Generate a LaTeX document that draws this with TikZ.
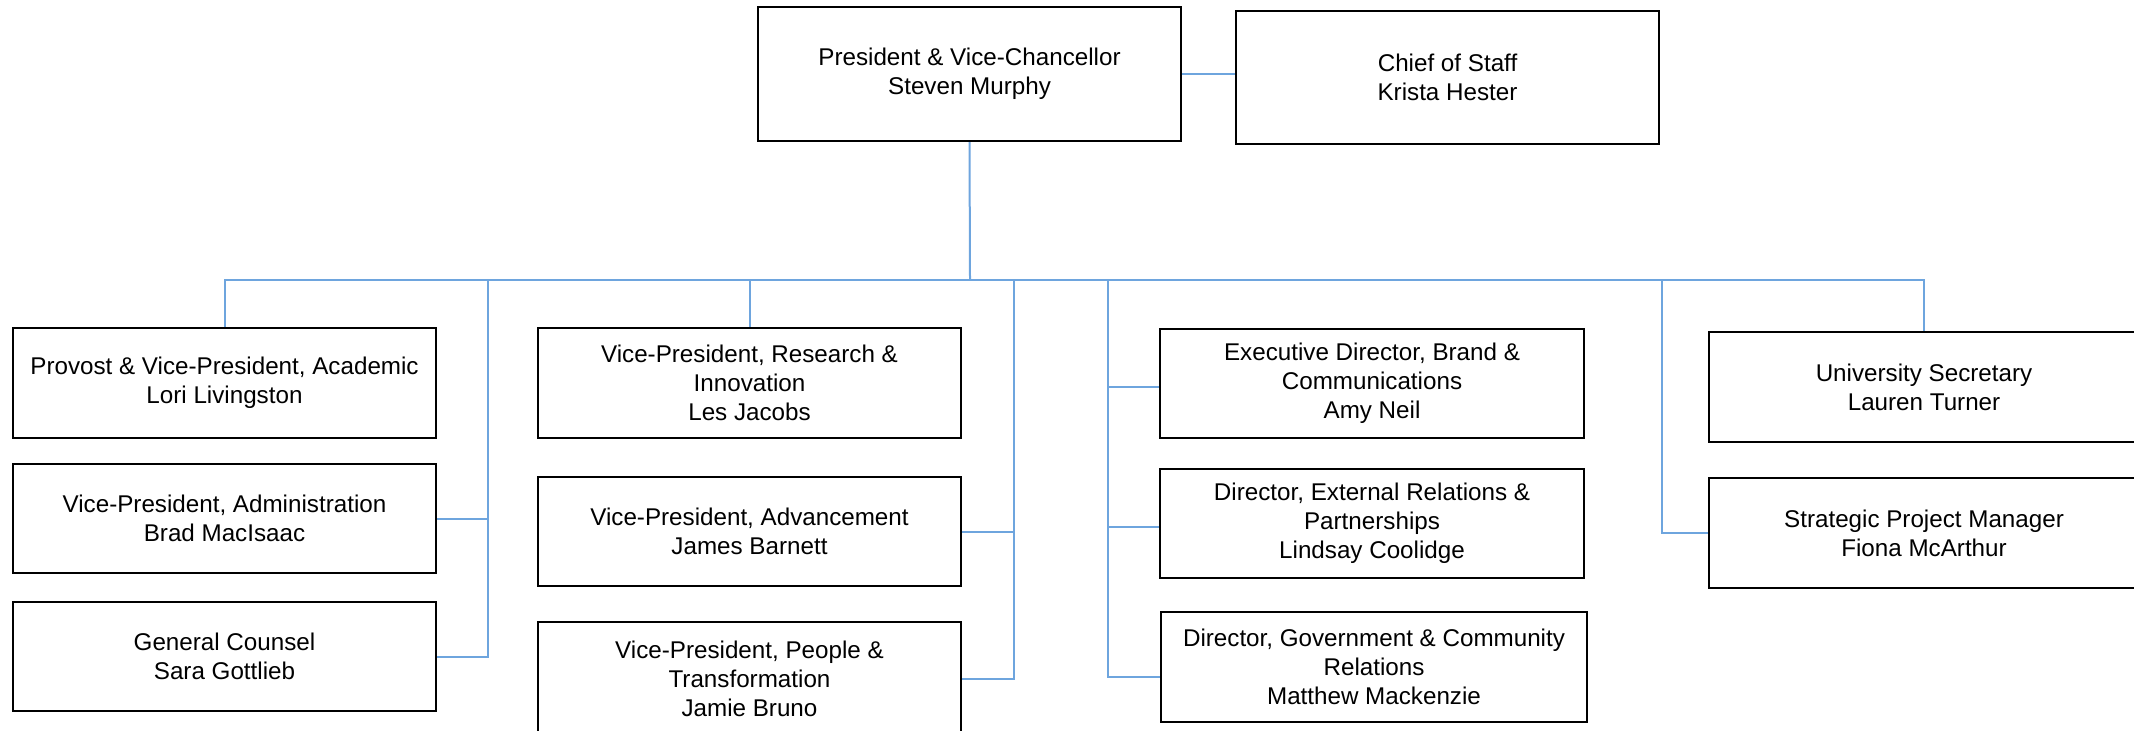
\documentclass[tikz,border=0pt]{standalone}
\usepackage{fontspec}
\setmainfont{Liberation Sans}
\definecolor{linkblue}{RGB}{110,165,222}
\begin{document}
\begin{tikzpicture}[x=0.5pt,y=-0.5pt,
  orgbox/.style={draw=black,line width=1.1pt,fill=white,rectangle,align=center,inner sep=0pt,
     minimum width=211.5pt,font=\fontsize{12.1}{14.5}\selectfont},
  link/.style={draw=linkblue,line width=1pt}]
\useasboundingbox (0,0) rectangle (2134,731);
% top
\node[orgbox,minimum height=67pt] (pres) at (969.5,74) {President \& Vice-Chancellor\\Steven Murphy};
\node[orgbox,minimum height=66.5pt] (chief) at (1447.5,77.5) {Chief of Staff\\Krista Hester};
% left column
\node[orgbox,minimum height=55pt] (provost) at (224.5,383) {Provost \& Vice-President, Academic\\Lori Livingston};
\node[orgbox,minimum height=54.5pt] (admin) at (224.5,518.5) {Vice-President, Administration\\Brad MacIsaac};
\node[orgbox,minimum height=54.5pt] (counsel) at (224.5,656.5) {General Counsel\\Sara Gottlieb};
% middle column
\node[orgbox,minimum height=55pt] (research) at (749.5,383) {Vice-President, Research \&\\Innovation\\Les Jacobs};
\node[orgbox,minimum height=54.5pt] (advance) at (749.5,531.5) {Vice-President, Advancement\\James Barnett};
\node[orgbox,minimum height=57pt] (people) at (749.5,679) {Vice-President, People \&\\Transformation\\Jamie Bruno};
% right-centre column
\node[orgbox,minimum height=54.5pt,minimum width=212pt] (brand) at (1372,383.5) {Executive Director, Brand \&\\Communications\\Amy Neil};
\node[orgbox,minimum height=54.5pt,minimum width=212pt] (external) at (1372,523.5) {Director, External Relations \&\\Partnerships\\Lindsay Coolidge};
\node[orgbox,minimum height=55pt,minimum width=213pt] (govt) at (1374,667) {Director, Government \& Community\\Relations\\Matthew Mackenzie};
% right column
\node[orgbox,minimum height=55pt,minimum width=215pt] (secretary) at (1924,387) {University Secretary\\Lauren Turner};
\node[orgbox,minimum height=55pt,minimum width=215pt] (pm) at (1924,533) {Strategic Project Manager\\Fiona McArthur};
% bus coordinates
\coordinate (bus) at (970,280);
\coordinate (g1) at (488,280);
\coordinate (g2) at (1014,280);
\coordinate (g3) at (1108,280);
\coordinate (g4) at (1662,280);
% connectors
\draw[link] (pres.east) -- (pres.east -| chief.west);
\draw[link] (pres.south) -- (bus);
\draw[link] (provost.north) -- (provost.north |- bus) -- (secretary.north |- bus) -- (secretary.north);
\draw[link] (research.north |- bus) -- (research.north);
\draw[link] (g1) |- (counsel.east);
\draw[link] (g1 |- admin.east) -- (admin.east);
\draw[link] (g2) |- (people.east);
\draw[link] (g2 |- advance.east) -- (advance.east);
\draw[link] (g3) |- ([yshift=-5pt]govt.west);
\draw[link] (g3 |- brand.west) ++(0,3.5) -- ([yshift=-1.75pt]brand.west);
\draw[link] (g3 |- external.west) ++(0,3.5) -- ([yshift=-1.75pt]external.west);
\draw[link] (g4) |- (pm.west);
\end{tikzpicture}
\end{document}
